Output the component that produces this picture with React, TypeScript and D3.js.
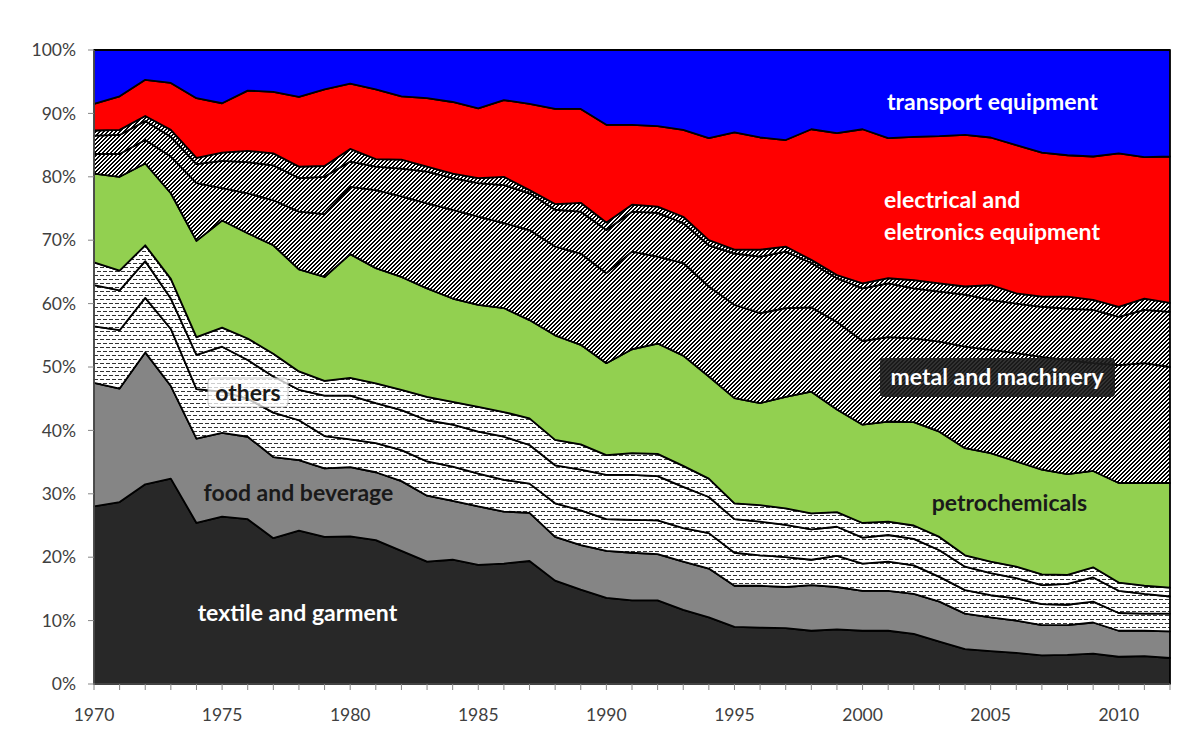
import React from "react";
import * as d3 from "d3";

// years on the x axis
const years = [
  1970, 1971, 1972, 1973, 1974, 1975, 1976, 1977, 1978, 1979,
  1980, 1981, 1982, 1983, 1984, 1985, 1986, 1987, 1988, 1989,
  1990, 1991, 1992, 1993, 1994, 1995, 1996, 1997, 1998, 1999,
  2000, 2001, 2002, 2003, 2004, 2005, 2006, 2007, 2008, 2009,
  2010, 2011, 2012,
];

// shares (%) per sector, bottom to top
const textile = [28.0, 28.7, 31.5, 32.4, 25.4, 26.4, 26.0, 23.0, 24.2, 23.2, 23.3, 22.7, 21.0, 19.3, 19.6, 18.8, 19.0, 19.4, 16.3, 14.9, 13.6, 13.2, 13.2, 11.7, 10.5, 9.0, 8.9, 8.8, 8.4, 8.6, 8.4, 8.4, 7.9, 6.7, 5.5, 5.2, 4.9, 4.5, 4.6, 4.8, 4.3, 4.4, 4.1];
const food = [19.5, 17.9, 20.8, 14.6, 13.3, 13.2, 13.0, 12.8, 11.1, 10.8, 10.9, 10.7, 11.0, 10.4, 9.3, 9.2, 8.2, 7.6, 6.9, 7.0, 7.4, 7.5, 7.3, 7.6, 7.7, 6.5, 6.6, 6.5, 7.2, 6.7, 6.3, 6.3, 6.3, 6.3, 5.6, 5.3, 5.1, 4.8, 4.7, 4.9, 4.1, 4.0, 4.2];
const othersA = [8.9, 9.2, 8.6, 9.0, 7.8, 6.5, 6.0, 7.0, 6.3, 5.1, 4.4, 4.6, 4.9, 5.4, 5.4, 5.2, 5.0, 4.6, 5.3, 5.5, 5.0, 5.2, 5.3, 5.3, 5.6, 5.2, 4.8, 4.7, 4.0, 4.9, 4.3, 4.6, 4.5, 3.9, 3.7, 3.5, 3.5, 3.3, 3.2, 3.3, 2.8, 2.7, 2.8];
const othersB = [6.5, 6.3, 5.8, 4.8, 5.4, 7.1, 6.1, 5.7, 4.8, 6.4, 6.9, 6.3, 6.3, 6.5, 6.6, 6.6, 6.8, 6.1, 6.0, 6.4, 7.0, 7.1, 7.0, 6.5, 5.7, 5.3, 5.3, 5.1, 4.8, 4.6, 4.1, 4.2, 4.2, 4.2, 3.7, 3.5, 3.2, 3.0, 3.3, 3.8, 3.5, 3.1, 2.7];
const othersC = [3.6, 3.1, 2.5, 3.1, 2.8, 3.0, 3.4, 3.6, 2.9, 2.3, 2.8, 3.1, 3.2, 3.7, 3.6, 3.9, 3.9, 4.2, 4.0, 4.0, 3.1, 3.4, 3.5, 3.3, 2.9, 2.5, 2.6, 2.6, 2.5, 2.3, 2.3, 2.1, 2.1, 2.1, 1.8, 1.8, 1.8, 1.7, 1.4, 1.6, 1.3, 1.3, 1.4];
const petrochemicals = [14.0, 14.8, 12.9, 13.5, 15.2, 16.9, 16.6, 17.1, 16.1, 16.4, 19.5, 18.2, 17.8, 17.1, 16.3, 16.1, 16.4, 15.5, 16.5, 15.7, 14.5, 16.4, 17.4, 17.4, 16.1, 16.6, 16.1, 17.6, 19.2, 16.2, 15.5, 15.8, 16.3, 16.6, 16.9, 17.1, 16.6, 16.5, 15.9, 15.2, 15.7, 16.2, 16.5];
const metalA = [3.1, 3.6, 3.7, 5.8, 9.1, 5.1, 6.3, 7.1, 9.1, 9.9, 10.6, 12.3, 12.7, 13.4, 14.0, 13.9, 13.4, 14.2, 14.0, 14.4, 14.2, 15.4, 13.7, 14.6, 14.2, 14.7, 14.2, 14.0, 13.3, 13.8, 13.2, 13.3, 13.2, 14.2, 16.0, 16.3, 17.1, 17.8, 18.0, 17.0, 18.6, 18.9, 18.3];
const metalB = [2.9, 3.0, 3.0, 3.1, 3.0, 4.3, 4.9, 5.5, 5.3, 5.9, 4.0, 3.7, 4.4, 5.0, 5.0, 5.3, 6.0, 5.8, 5.8, 6.6, 6.8, 6.3, 6.9, 6.3, 6.5, 8.1, 8.9, 8.9, 7.0, 6.9, 8.3, 8.5, 7.9, 7.9, 8.2, 7.9, 7.8, 7.9, 8.1, 8.4, 7.6, 8.4, 8.7];
const metalC = [0.8, 0.8, 0.8, 1.1, 1.0, 1.3, 1.8, 1.9, 1.8, 1.7, 2.0, 1.2, 1.4, 0.8, 0.7, 0.8, 1.3, 0.5, 0.9, 1.4, 1.2, 1.1, 1.0, 1.0, 0.8, 0.6, 1.1, 0.8, 0.5, 0.5, 0.8, 0.8, 1.3, 1.3, 1.3, 2.3, 1.6, 1.6, 1.9, 1.6, 1.6, 1.8, 1.4];
const electrical = [4.2, 5.3, 5.7, 7.4, 9.4, 7.8, 9.5, 9.7, 11.0, 12.1, 10.3, 11.0, 10.0, 10.8, 11.3, 11.0, 12.1, 13.6, 15.0, 14.8, 15.4, 12.6, 12.7, 13.7, 16.1, 18.5, 17.7, 16.8, 20.6, 22.4, 24.3, 22.1, 22.6, 23.2, 23.9, 23.3, 23.4, 22.7, 22.3, 22.6, 24.2, 22.3, 23.1];
const transport = [8.5, 7.3, 4.7, 5.2, 7.6, 8.4, 6.4, 6.6, 7.4, 6.2, 5.3, 6.2, 7.3, 7.6, 8.2, 9.2, 7.9, 8.5, 9.3, 9.3, 11.8, 11.8, 12.0, 12.6, 13.9, 13.0, 13.8, 14.2, 12.5, 13.1, 12.5, 13.9, 13.7, 13.6, 13.4, 13.8, 15.0, 16.2, 16.6, 16.8, 16.3, 16.9, 16.8];

const keys = ["textile", "food", "othersA", "othersB", "othersC", "petrochemicals", "metalA", "metalB", "metalC", "electrical", "transport"];
const fills: Record<string, string> = {
  textile: "#282828",
  food: "#858585",
  othersA: "url(#dashPat)",
  othersB: "url(#dashPat)",
  othersC: "url(#dashPat)",
  petrochemicals: "#92D050",
  metalA: "url(#hatchPat)",
  metalB: "url(#hatchPat)",
  metalC: "url(#hatchPat)",
  electrical: "#FF0000",
  transport: "#0000FF",
};

const rows = years.map((year, i) => ({
  year,
  textile: textile[i],
  food: food[i],
  othersA: othersA[i],
  othersB: othersB[i],
  othersC: othersC[i],
  petrochemicals: petrochemicals[i],
  metalA: metalA[i],
  metalB: metalB[i],
  metalC: metalC[i],
  electrical: electrical[i],
  transport: transport[i],
}));

export default function App() {
  const width = 1192;
  const height = 746;
  const margin = { top: 50, right: 22, bottom: 62, left: 94 };
  const innerW = width - margin.left - margin.right;
  const innerH = height - margin.top - margin.bottom;

  // scales
  const x = d3.scaleLinear().domain([1970, 2012]).range([0, innerW]);
  const y = d3.scaleLinear().domain([0, 1]).range([innerH, 0]);

  // stacked 100% areas
  const stacked = d3.stack<any>().keys(keys).offset(d3.stackOffsetExpand)(rows);
  const area = d3.area<any>()
    .x(d => x(d.data.year))
    .y0(d => y(d[0]))
    .y1(d => y(d[1]));

  const font = "Lato, 'Open Sans', sans-serif";
  const pct = d3.format(".0%");

  return (
    <div style={{ position: "absolute", left: 0, top: 0 }}>
      <svg width={width} height={height} style={{ display: "block", background: "#fff" }}>
        <defs>
          <pattern id="dashPat" width="6" height="8" patternUnits="userSpaceOnUse">
            <rect width="6" height="8" fill="#fff" />
            <rect x="0" y="1" width="4" height="1" fill="#333" />
            <rect x="3" y="5" width="3" height="1" fill="#333" />
            <rect x="0" y="5" width="1" height="1" fill="#333" />
          </pattern>
          {/* pixel hatch, upward diagonal */}
          <pattern id="hatchPat" width="4" height="4" patternUnits="userSpaceOnUse" shapeRendering="crispEdges">
            <rect width="4" height="4" fill="#fff" />
            <rect x="2" y="0" width="2" height="1" fill="#000" />
            <rect x="1" y="1" width="2" height="1" fill="#000" />
            <rect x="0" y="2" width="2" height="1" fill="#000" />
            <rect x="3" y="3" width="1" height="1" fill="#000" />
            <rect x="0" y="3" width="1" height="1" fill="#000" />
          </pattern>
        </defs>
        <g transform={`translate(${margin.left},${margin.top})`}>
          {stacked.map(s => (
            <path key={s.key} d={area(s) || ""} fill={fills[s.key]} stroke="#000" strokeWidth={1.8} strokeLinejoin="round" />
          ))}

          {/* y axis */}
          <line x1={0} x2={0} y1={0} y2={innerH} stroke="#868686" strokeWidth={1} />
          {y.ticks(10).map(t => (
            <g key={t} transform={`translate(0,${y(t)})`}>
              <line x1={-6} x2={0} stroke="#868686" />
              <text x={-18} dy="0.35em" textAnchor="end" fontFamily={font} fontSize={17.5} fill="#404040">{pct(t)}</text>
            </g>
          ))}

          {/* x axis */}
          <line x1={0} x2={innerW} y1={innerH} y2={innerH} stroke="#868686" />
          {years.map(yr => (
            <line key={yr} x1={x(yr)} x2={x(yr)} y1={innerH} y2={innerH + 6} stroke="#868686" />
          ))}
          {years.filter(yr => yr % 5 === 0).map(yr => (
            <text key={yr} x={x(yr)} y={innerH + 37} textAnchor="middle" fontFamily={font} fontSize={17.5} fill="#404040">{yr}</text>
          ))}

          {/* labels */}
          <g fontFamily={font} fontWeight="bold" fontSize={23}>
            <text x={x(2005.07)} y={y(0.9054)} textAnchor="middle" fill="#fff">transport equipment</text>
            <text x={x(2000.84)} y={y(0.7508)} fill="#fff">electrical and</text>
            <text x={x(2000.84)} y={y(0.7003)} fill="#fff">eletronics equipment</text>
            <rect x={x(2000.68)} y={y(0.5142)} width={235} height={39} rx={4} fill="#1c1c1c" opacity={0.9} />
            <text x={x(2005.25)} y={y(0.4716)} textAnchor="middle" fill="#fff">metal and machinery</text>
            <text x={x(2005.73)} y={y(0.2729)} textAnchor="middle" fill="#1a1a1a">petrochemicals</text>
            <rect x={x(1974.45)} y={y(0.4826)} width={80} height={29} rx={4} fill="#fff" opacity={0.75} stroke="#bbb" />
            <text x={x(1976.01)} y={y(0.4464)} textAnchor="middle" fill="#1a1a1a">others</text>
            <text x={x(1977.98)} y={y(0.288)} textAnchor="middle" fill="#1a1a1a">food and beverage</text>
            <text x={x(1977.94)} y={y(0.1)} textAnchor="middle" fill="#fff">textile and garment</text>
          </g>
        </g>
      </svg>
    </div>
  );
}
